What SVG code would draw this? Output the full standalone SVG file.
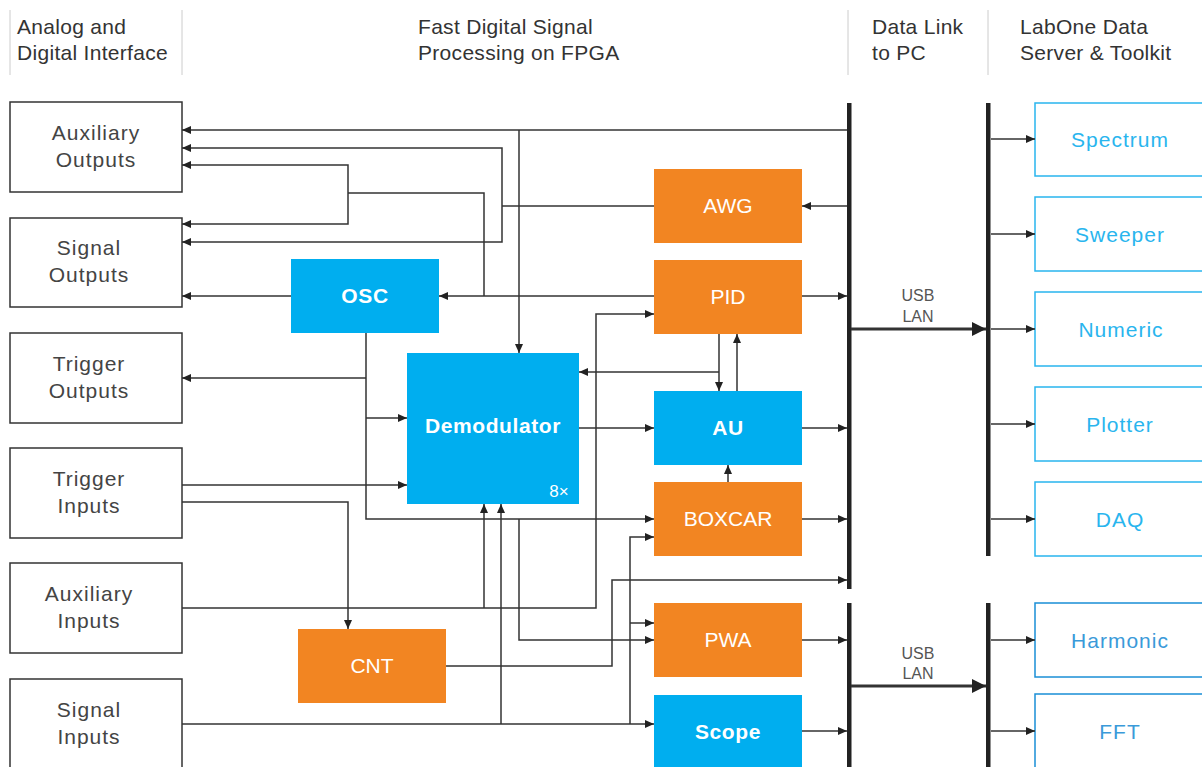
<svg xmlns="http://www.w3.org/2000/svg" width="1202" height="767" viewBox="0 0 1202 767">
<defs>
<marker id="a" markerUnits="userSpaceOnUse" markerWidth="10" markerHeight="10" refX="9" refY="4" orient="auto"><path d="M0,0 L9,4 L0,8 z" fill="#222"/></marker>
<marker id="b" markerUnits="userSpaceOnUse" markerWidth="16" markerHeight="16" refX="14" refY="7" orient="auto"><path d="M0,0 L14,7 L0,14 z" fill="#222"/></marker>
<style>
.hd{font-family:"Liberation Sans",Arial,sans-serif;font-size:21px;fill:#333;letter-spacing:0.3px}
.sep{stroke:#ccc;stroke-width:1}
.lb rect{fill:#fff;stroke:#333;stroke-width:1.5}
.lb text{font-family:"Liberation Sans",Arial,sans-serif;font-size:21px;fill:#444;text-anchor:middle;letter-spacing:1px}
.bl rect{fill:#00AEEF}
.or rect{fill:#F28522}
.bl text,.or text{font-family:"Liberation Sans",Arial,sans-serif;font-size:21px;fill:#fff;text-anchor:middle}
.bold{font-weight:bold;letter-spacing:0.6px}
.rb rect{fill:#fff;stroke:#29B5EE;stroke-width:1.5}
.rb text{font-family:"Liberation Sans",Arial,sans-serif;font-size:21px;fill:#29B5EE;text-anchor:middle;letter-spacing:1px}
.rb2 rect{stroke:#1A8FD6}
.rb2 text{fill:#3A9AD9}
.c path{fill:none;stroke:#333;stroke-width:1.5}
.c .ar{marker-end:url(#a)}
.bar{fill:#222}
.usb{font-family:"Liberation Sans",Arial,sans-serif;font-size:16px;fill:#555;text-anchor:middle}
</style>
</defs>
<rect width="1202" height="767" fill="#fff"/>

<g id="headers">
<line class="sep" x1="10" y1="10" x2="10" y2="75"/>
<line class="sep" x1="182" y1="10" x2="182" y2="75"/>
<line class="sep" x1="848" y1="10" x2="848" y2="75"/>
<line class="sep" x1="988" y1="10" x2="988" y2="75"/>
<text class="hd" x="17" y="34">Analog and</text>
<text class="hd" x="17" y="60">Digital Interface</text>
<text class="hd" x="418" y="34">Fast Digital Signal</text>
<text class="hd" x="418" y="60">Processing on FPGA</text>
<text class="hd" x="872" y="34">Data Link</text>
<text class="hd" x="872" y="60">to PC</text>
<text class="hd" x="1020" y="34">LabOne Data</text>
<text class="hd" x="1020" y="60">Server &amp; Toolkit</text>
</g>

<g id="aux-outputs" class="lb"><rect x="10" y="102" width="172" height="90"/><text x="96" y="140">Auxiliary</text><text x="96" y="167">Outputs</text></g>
<g id="signal-outputs" class="lb"><rect x="10" y="218" width="172" height="89"/><text x="89" y="255">Signal</text><text x="89" y="282">Outputs</text></g>
<g id="trigger-outputs" class="lb"><rect x="10" y="333" width="172" height="90"/><text x="89" y="371">Trigger</text><text x="89" y="398">Outputs</text></g>
<g id="trigger-inputs" class="lb"><rect x="10" y="448" width="172" height="90"/><text x="89" y="486">Trigger</text><text x="89" y="513">Inputs</text></g>
<g id="aux-inputs" class="lb"><rect x="10" y="563" width="172" height="90"/><text x="89" y="601">Auxiliary</text><text x="89" y="628">Inputs</text></g>
<g id="signal-inputs" class="lb"><rect x="10" y="679" width="172" height="100"/><text x="89" y="717">Signal</text><text x="89" y="744">Inputs</text></g>

<g id="osc" class="bl"><rect x="291" y="259" width="148" height="74"/><text class="bold" x="365" y="303">OSC</text></g>
<g id="demodulator" class="bl"><rect x="407" y="353" width="172" height="151"/><text class="bold" x="493" y="433">Demodulator</text><text x="559" y="497" style="font-size:17px">8×</text></g>
<g id="au" class="bl"><rect x="654" y="391" width="148" height="74"/><text class="bold" x="728" y="435">AU</text></g>
<g id="scope" class="bl"><rect x="654" y="695" width="148" height="80"/><text class="bold" x="728" y="739">Scope</text></g>
<g id="awg" class="or"><rect x="654" y="169" width="148" height="74"/><text x="728" y="213">AWG</text></g>
<g id="pid" class="or"><rect x="654" y="260" width="148" height="74"/><text x="728" y="304">PID</text></g>
<g id="boxcar" class="or"><rect x="654" y="482" width="148" height="74"/><text x="728" y="526">BOXCAR</text></g>
<g id="pwa" class="or"><rect x="654" y="603" width="148" height="74"/><text x="728" y="647">PWA</text></g>
<g id="cnt" class="or"><rect x="298" y="629" width="148" height="74"/><text x="372" y="673">CNT</text></g>

<g id="spectrum" class="rb"><rect x="1035" y="103" width="180" height="73"/><text x="1120" y="147">Spectrum</text></g>
<g id="sweeper" class="rb"><rect x="1035" y="197" width="180" height="74"/><text x="1120" y="242">Sweeper</text></g>
<g id="numeric" class="rb"><rect x="1035" y="292" width="180" height="74"/><text x="1121" y="337">Numeric</text></g>
<g id="plotter" class="rb"><rect x="1035" y="387" width="180" height="74"/><text x="1120" y="432">Plotter</text></g>
<g id="daq" class="rb"><rect x="1035" y="482" width="180" height="74"/><text x="1120" y="527">DAQ</text></g>
<g id="harmonic" class="rb rb2"><rect x="1035" y="603" width="180" height="74"/><text x="1120" y="648">Harmonic</text></g>
<g id="fft" class="rb rb2"><rect x="1035" y="694" width="180" height="80"/><text x="1120" y="739">FFT</text></g>

<g id="buses">
<rect class="bar" x="847" y="103" width="4.5" height="486"/>
<rect class="bar" x="847" y="603" width="4.5" height="170"/>
<rect class="bar" x="986" y="103" width="4.5" height="453"/>
<rect class="bar" x="986" y="603" width="4.5" height="170"/>
<text class="usb" x="918" y="301">USB</text>
<text class="usb" x="918" y="322">LAN</text>
<text class="usb" x="918" y="659">USB</text>
<text class="usb" x="918" y="679">LAN</text>
</g>

<g id="connectors" class="c">
<path class="ar" d="M847,130 H182"/>
<path class="ar" d="M519,130 V353"/>
<path d="M654,206 H502"/>
<path class="ar" d="M502,206 V148 H182"/>
<path class="ar" d="M502,206 V242 H182"/>
<path class="ar" d="M654,296 H439"/>
<path d="M484,296 V193 H348"/>
<path class="ar" d="M348,193 V165 H182"/>
<path class="ar" d="M348,193 V224 H182"/>
<path class="ar" d="M291,296 H182"/>
<path class="ar" d="M366,333 V519 H654"/>
<path class="ar" d="M366,378 H182"/>
<path class="ar" d="M366,418 H407"/>
<path class="ar" d="M519,519 V640 H654"/>
<path class="ar" d="M182,485 H407"/>
<path class="ar" d="M182,502 H348 V629"/>
<path class="ar" d="M182,608 H596 V314 H654"/>
<path class="ar" d="M484,608 V504"/>
<path class="ar" d="M182,724 H654"/>
<path class="ar" d="M501,724 V504"/>
<path class="ar" d="M630,724 V537 H654"/>
<path class="ar" d="M630,623 H654"/>
<path class="ar" d="M446,666 H612 V580 H847"/>
<path class="ar" d="M579,428 H654"/>
<path class="ar" d="M719,334 V391"/>
<path class="ar" d="M719,372 H579"/>
<path class="ar" d="M737,391 V334"/>
<path class="ar" d="M728,482 V465"/>
<path class="ar" d="M802,296 H847"/>
<path class="ar" d="M802,428 H847"/>
<path class="ar" d="M802,519 H847"/>
<path class="ar" d="M802,640 H847"/>
<path class="ar" d="M802,731 H847"/>
<path class="ar" d="M847,206 H802"/>
<path d="M851,329 H986" style="stroke-width:3;marker-end:url(#b)"/>
<path d="M851,686 H986" style="stroke-width:3;marker-end:url(#b)"/>
<path class="ar" d="M991,139 H1035"/>
<path class="ar" d="M991,234 H1035"/>
<path class="ar" d="M991,329 H1035"/>
<path class="ar" d="M991,424 H1035"/>
<path class="ar" d="M991,519 H1035"/>
<path class="ar" d="M991,640 H1035"/>
<path class="ar" d="M991,731 H1035"/>
</g>
</svg>
